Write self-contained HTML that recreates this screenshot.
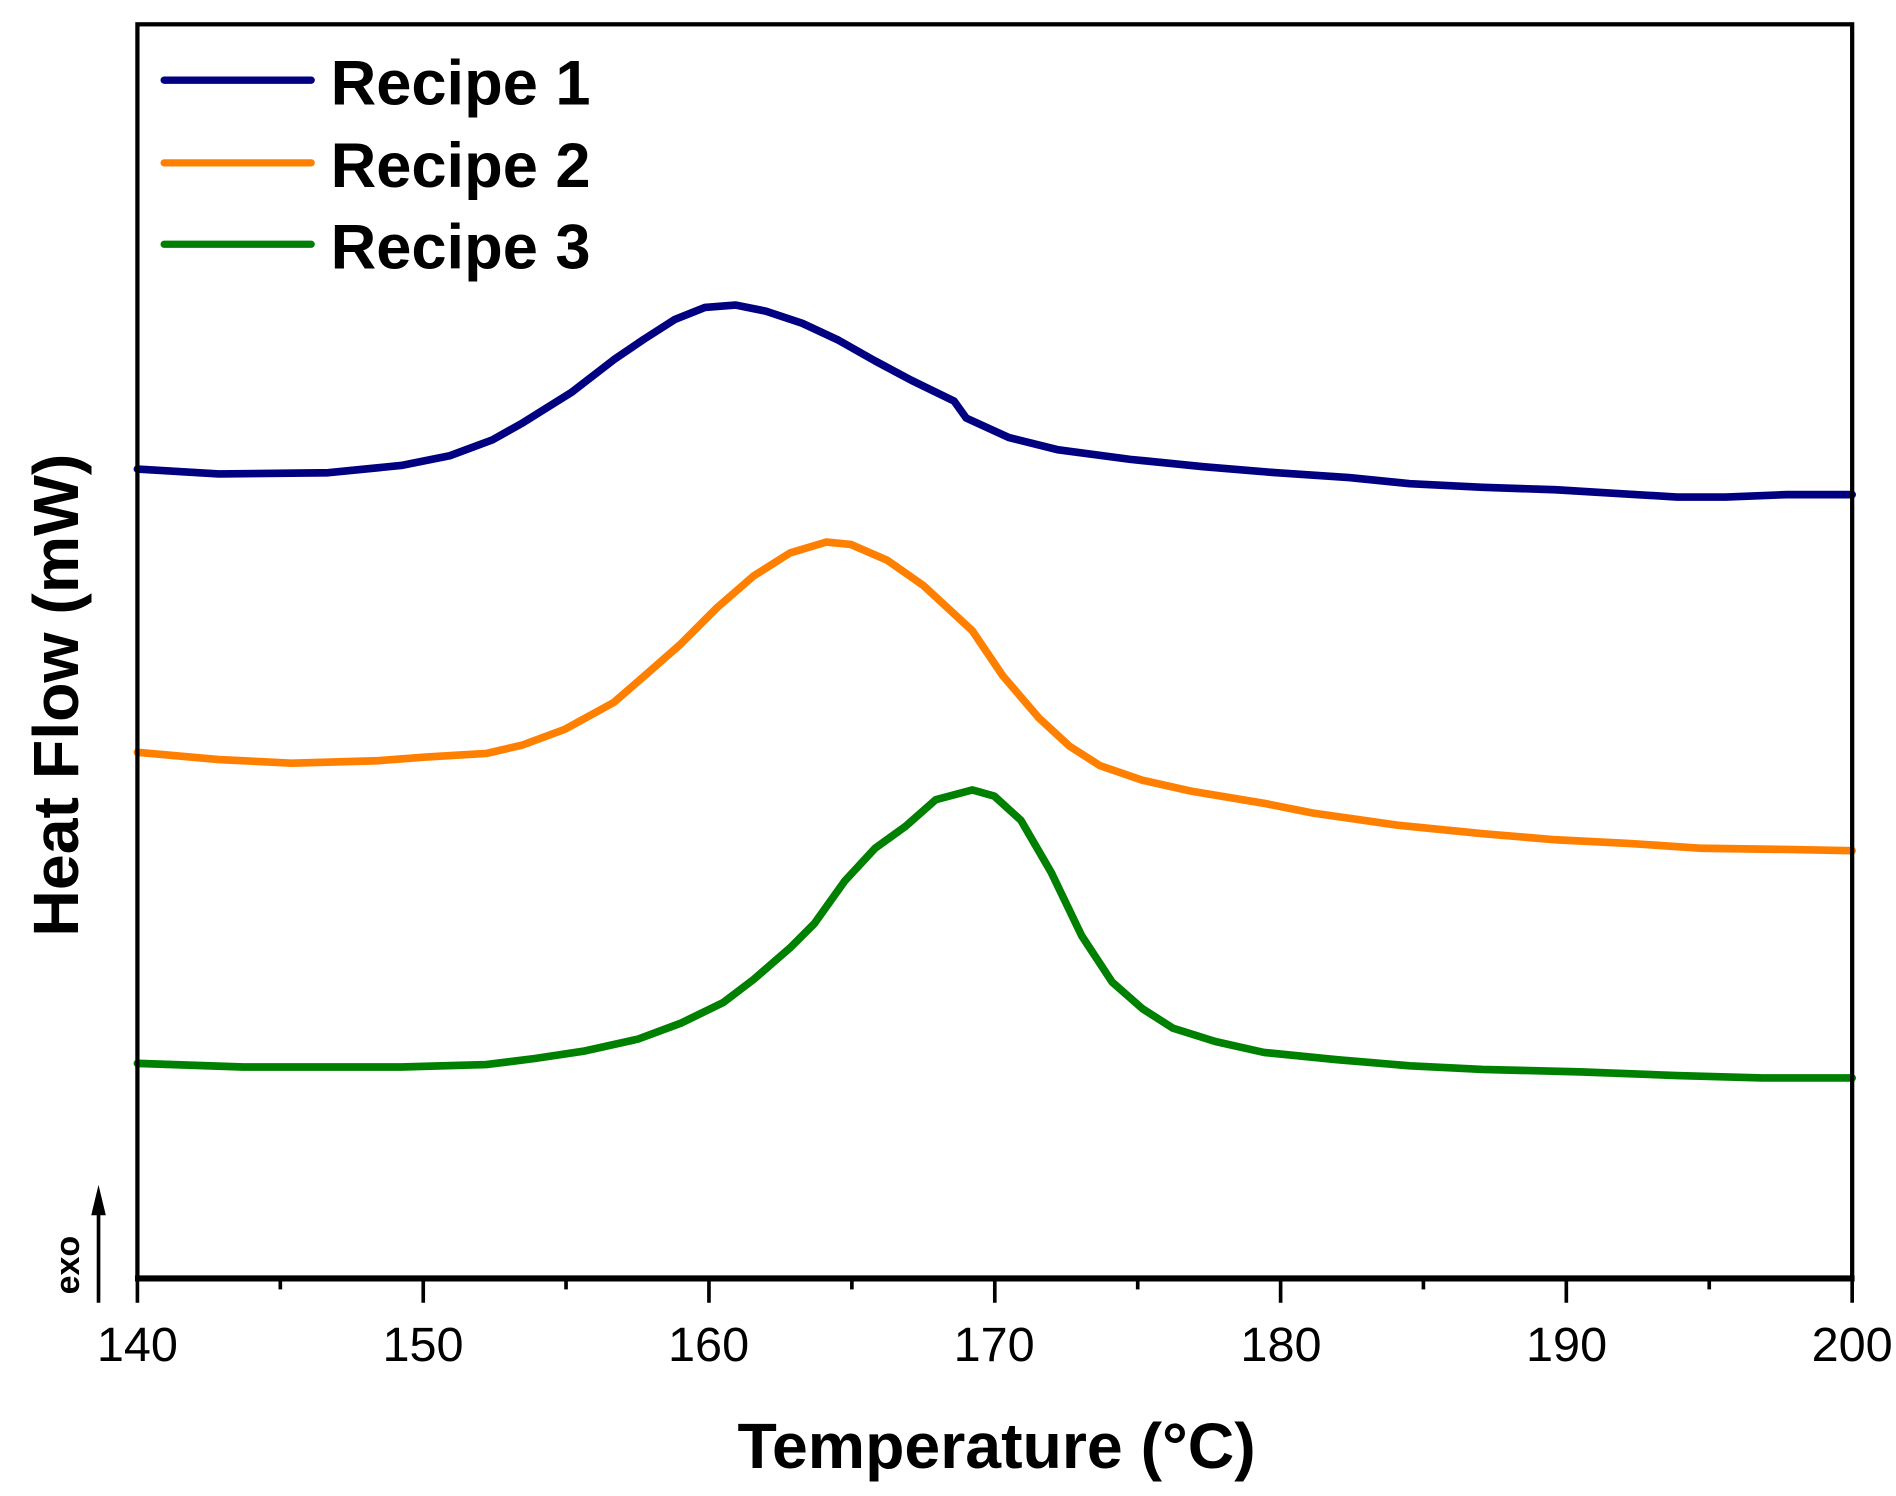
<!DOCTYPE html>
<html><head><meta charset="utf-8"><style>
html,body{margin:0;padding:0;background:#fff;}
svg{display:block;}
text{font-family:"Liberation Sans",Arial,sans-serif;fill:#000;}
</style></head><body>
<svg width="1896" height="1496" viewBox="0 0 1560 1231" xmlns="http://www.w3.org/2000/svg">
<rect x="0" y="0" width="1560" height="1231" fill="#fff"/>
<g fill="none" stroke-width="6.3" stroke-linejoin="round" stroke-linecap="round">
<polyline stroke="#000080" points="113,386 180,390 270,389 330,383 370,375 405,362 430,348 470,323 505,296 530,279 555,263 580,253 605,251 630,256 660,266 690,280 720,297 750,313 785,330 795,344 830,360 870,370 930,378 990,384 1050,389 1110,393 1160,398 1220,401 1280,403 1330,406 1380,409 1420,409 1470,407 1524,407"/>
<polyline stroke="#ff8000" points="113,619 180,625 240,628 310,626 350,623 400,620 430,613 465,600 505,578 535,552 560,530 590,500 620,474 650,455 680,446 700,448 730,461 760,482 800,519 825,556 855,591 880,614 905,630 940,642 980,651 1040,661 1080,669 1150,679 1220,686 1280,691 1340,694 1400,698 1470,699 1524,700"/>
<polyline stroke="#008000" points="113,875 200,878 330,878 400,876 440,871 480,865 525,855 560,842 595,825 620,806 650,780 670,760 695,725 720,698 745,680 770,658 800,650 818,655 840,675 865,718 890,770 915,808 940,830 965,846 1000,857 1040,866 1100,872 1160,877 1220,880 1300,882 1380,885 1450,887 1524,887"/>
</g>
<rect x="113" y="20" width="1411" height="1032" fill="none" stroke="#000" stroke-width="3.5"/>
<line x1="111" y1="1052" x2="1526" y2="1052" stroke="#000" stroke-width="5"/>
<g stroke="#000" stroke-width="3">
<line x1="113" y1="1052" x2="113" y2="1072"/><line x1="230.6" y1="1052" x2="230.6" y2="1061"/>
<line x1="348.2" y1="1052" x2="348.2" y2="1072"/><line x1="465.7" y1="1052" x2="465.7" y2="1061"/>
<line x1="583.3" y1="1052" x2="583.3" y2="1072"/><line x1="700.9" y1="1052" x2="700.9" y2="1061"/>
<line x1="818.5" y1="1052" x2="818.5" y2="1072"/><line x1="936.1" y1="1052" x2="936.1" y2="1061"/>
<line x1="1053.7" y1="1052" x2="1053.7" y2="1072"/><line x1="1171.2" y1="1052" x2="1171.2" y2="1061"/>
<line x1="1288.8" y1="1052" x2="1288.8" y2="1072"/><line x1="1406.4" y1="1052" x2="1406.4" y2="1061"/>
<line x1="1524" y1="1052" x2="1524" y2="1072"/>
</g>
<g font-size="40" text-anchor="middle">
<text x="113" y="1120">140</text><text x="348" y="1120">150</text><text x="583" y="1120">160</text>
<text x="818" y="1120">170</text><text x="1054" y="1120">180</text><text x="1289" y="1120">190</text>
<text x="1524" y="1120">200</text>
</g>
<text x="820" y="1208" font-size="53" font-weight="bold" text-anchor="middle">Temperature (°C)</text>
<text transform="translate(64,572) rotate(-90)" font-size="53" font-weight="bold" text-anchor="middle">Heat Flow (mW)</text>
<line x1="81" y1="1072" x2="81" y2="995" stroke="#000" stroke-width="3"/>
<polygon points="81,975 75,1000 87,1000" fill="#000"/>
<text transform="translate(65,1041) rotate(-90)" font-size="28" font-weight="bold" text-anchor="middle">exo</text>
<g stroke-width="6" stroke-linecap="round">
<line x1="135" y1="66" x2="256" y2="66" stroke="#000080"/>
<line x1="135" y1="134" x2="256" y2="134" stroke="#ff8000"/>
<line x1="135" y1="201" x2="256" y2="201" stroke="#008000"/>
</g>
<g font-size="52" font-weight="bold">
<text x="272" y="86">Recipe 1</text>
<text x="272" y="154">Recipe 2</text>
<text x="272" y="221">Recipe 3</text>
</g>
</svg>
</body></html>
